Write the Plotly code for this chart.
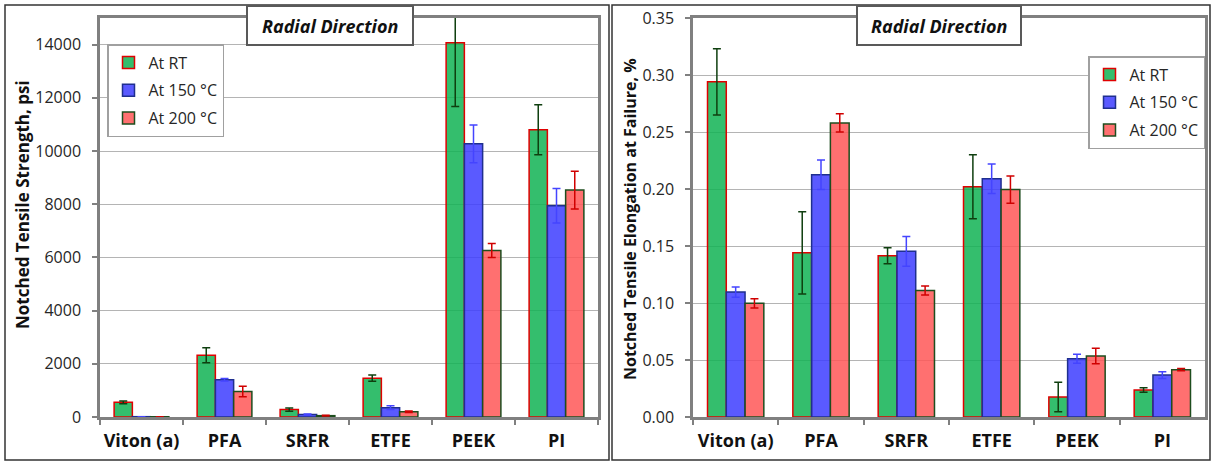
import plotly.graph_objects as go

# ---------------- data ----------------
categories = ["Viton (a)", "PFA", "SRFR", "ETFE", "PEEK", "PI"]
series_names = ["At RT", "At 150 °C", "At 200 °C"]

strength_rt = [550, 2320, 280, 1460, 14070, 10800]
strength_rt_err = [50, 280, 60, 120, 2400, 940]
strength_150 = [12, 1400, 90, 350, 10270, 7940]
strength_150_err = [0, 50, 20, 70, 710, 650]
strength_200 = [10, 960, 50, 200, 6260, 8530]
strength_200_err = [0, 200, 15, 30, 260, 710]

elong_rt = [0.294, 0.144, 0.1415, 0.202, 0.0175, 0.0237]
elong_rt_err = [0.029, 0.036, 0.007, 0.028, 0.013, 0.002]
elong_150 = [0.1096, 0.2125, 0.1453, 0.209, 0.0511, 0.0368]
elong_150_err = [0.0045, 0.013, 0.013, 0.013, 0.004, 0.003]
elong_200 = [0.0997, 0.258, 0.111, 0.1995, 0.0535, 0.0415]
elong_200_err = [0.004, 0.008, 0.004, 0.012, 0.0067, 0.001]

strength_ticks = [0, 2000, 4000, 6000, 8000, 10000, 12000, 14000]
elong_ticks = [0.00, 0.05, 0.10, 0.15, 0.20, 0.25, 0.30, 0.35]

# ---------------- styles ----------------
W, H = 1213, 461
FONT = "'Open Sans', Lato, sans-serif"
fills = ["rgba(16,179,84,0.85)", "rgba(61,61,255,0.85)", "rgba(255,87,87,0.85)"]
outlines = ["#e00000", "#1f2f8f", "#1e4d1e"]
err_colors = ["#0f3f0f", "#4444ff", "#d00000"]


def px_x(p):
    return p / W


def px_y(p):
    return 1 - p / H


fig = go.Figure()

left_sets = [(strength_rt, strength_rt_err), (strength_150, strength_150_err), (strength_200, strength_200_err)]
right_sets = [(elong_rt, elong_rt_err), (elong_150, elong_150_err), (elong_200, elong_200_err)]

for i, (vals, errs) in enumerate(left_sets):
    fig.add_trace(go.Bar(
        x=categories, y=vals, name=series_names[i], xaxis="x", yaxis="y", legend="legend",
        legendgroup=f"L{i}",
        marker=dict(color=fills[i], line=dict(color=outlines[i], width=1.5)),
        error_y=dict(type="data", array=errs, visible=True, color=err_colors[i], thickness=1.5, width=4),
    ))
for i, (vals, errs) in enumerate(right_sets):
    fig.add_trace(go.Bar(
        x=categories, y=vals, name=series_names[i], xaxis="x2", yaxis="y2", legend="legend2",
        legendgroup=f"R{i}",
        marker=dict(color=fills[i], line=dict(color=outlines[i], width=1.5)),
        error_y=dict(type="data", array=errs, visible=True, color=err_colors[i], thickness=1.5, width=4),
    ))

axis_common = dict(showline=True, linecolor="#808080", linewidth=2.5, mirror=True, automargin=False,
                   ticks="outside", tickcolor="#808080", ticklen=5, tickwidth=1.5)
yfont = dict(family=FONT, size=16, color="#262626")
xfont = dict(family=FONT, size=18, color="#111111", weight="bold")

fig.update_layout(
    width=W, height=H,
    margin=dict(l=0, r=0, t=0, b=0),
    paper_bgcolor="white", plot_bgcolor="white",
    font=dict(family=FONT, size=16, color="#262626"),
    barmode="group", bargap=0.34, bargroupgap=0,
    xaxis=dict(domain=[px_x(100), px_x(598)], anchor="y", type="category", tickson="boundaries",
               tickangle=0, showgrid=False, ticklabelstandoff=6, tickfont=xfont, **axis_common),
    yaxis=dict(domain=[px_y(417), px_y(18)], anchor="x", range=[0, 15000],
               tickvals=strength_ticks, ticktext=[str(t) for t in strength_ticks],
               showgrid=True, gridcolor="#b4b4b4", gridwidth=1.3, zeroline=False,
               ticklabelstandoff=8, tickfont=yfont, **axis_common),
    xaxis2=dict(domain=[px_x(693), px_x(1205)], anchor="y2", type="category", tickson="boundaries",
                tickangle=0, showgrid=False, ticklabelstandoff=6, tickfont=xfont, **axis_common),
    yaxis2=dict(domain=[px_y(417), px_y(18)], anchor="x2", range=[0, 0.35],
                tickvals=elong_ticks, ticktext=[f"{t:.2f}" for t in elong_ticks],
                showgrid=True, gridcolor="#b4b4b4", gridwidth=1.3, zeroline=False,
                ticklabelstandoff=8, tickfont=yfont, **axis_common),
    legend=dict(x=px_x(107), y=px_y(44), xanchor="left", yanchor="top",
                bgcolor="white", bordercolor="#a0a0a0", borderwidth=1.5,
                font=dict(family=FONT, size=16, color="#262626"), tracegroupgap=4),
    legend2=dict(x=px_x(1088), y=px_y(56), xanchor="left", yanchor="top",
                 bgcolor="white", bordercolor="#a0a0a0", borderwidth=1.5,
                 font=dict(family=FONT, size=16, color="#262626"), tracegroupgap=4),
    showlegend=True,
)

# outer chart frames
fig.add_shape(type="rect", xref="paper", yref="paper", x0=px_x(5), x1=px_x(609), y0=px_y(460), y1=px_y(5),
              line=dict(color="#333333", width=1.5), fillcolor="rgba(0,0,0,0)", layer="above")
fig.add_shape(type="rect", xref="paper", yref="paper", x0=px_x(612), x1=px_x(1210), y0=px_y(460), y1=px_y(5),
              line=dict(color="#333333", width=1.5), fillcolor="rgba(0,0,0,0)", layer="above")

# title boxes
for (x0, x1) in [(247, 413), (857, 1021)]:
    fig.add_shape(type="rect", xref="paper", yref="paper", x0=px_x(x0), x1=px_x(x1), y0=px_y(45), y1=px_y(6),
                  line=dict(color="#595959", width=2), fillcolor="white", layer="above")
    fig.add_annotation(xref="paper", yref="paper", x=px_x((x0 + x1) / 2), y=px_y(25.5),
                       text="<b><i>Radial Direction</i></b>", showarrow=False,
                       font=dict(family=FONT, size=18, color="#111111"),
                       xanchor="center", yanchor="middle")

# axis titles
fig.add_annotation(xref="paper", yref="paper", x=px_x(22), y=px_y(205), textangle=-90,
                   text="<b>Notched Tensile Strength, psi</b>", showarrow=False,
                   font=dict(family=FONT, size=17, color="#111111"), xanchor="center", yanchor="middle")
fig.add_annotation(xref="paper", yref="paper", x=px_x(630), y=px_y(219), textangle=-90,
                   text="<b>Notched Tensile Elongation at Failure, %</b>", showarrow=False,
                   font=dict(family=FONT, size=16, color="#111111"), xanchor="center", yanchor="middle")

fig.write_html("out.html", config={"displayModeBar": False},
               post_script="document.body.style.margin='0';document.body.style.overflow='hidden';")
